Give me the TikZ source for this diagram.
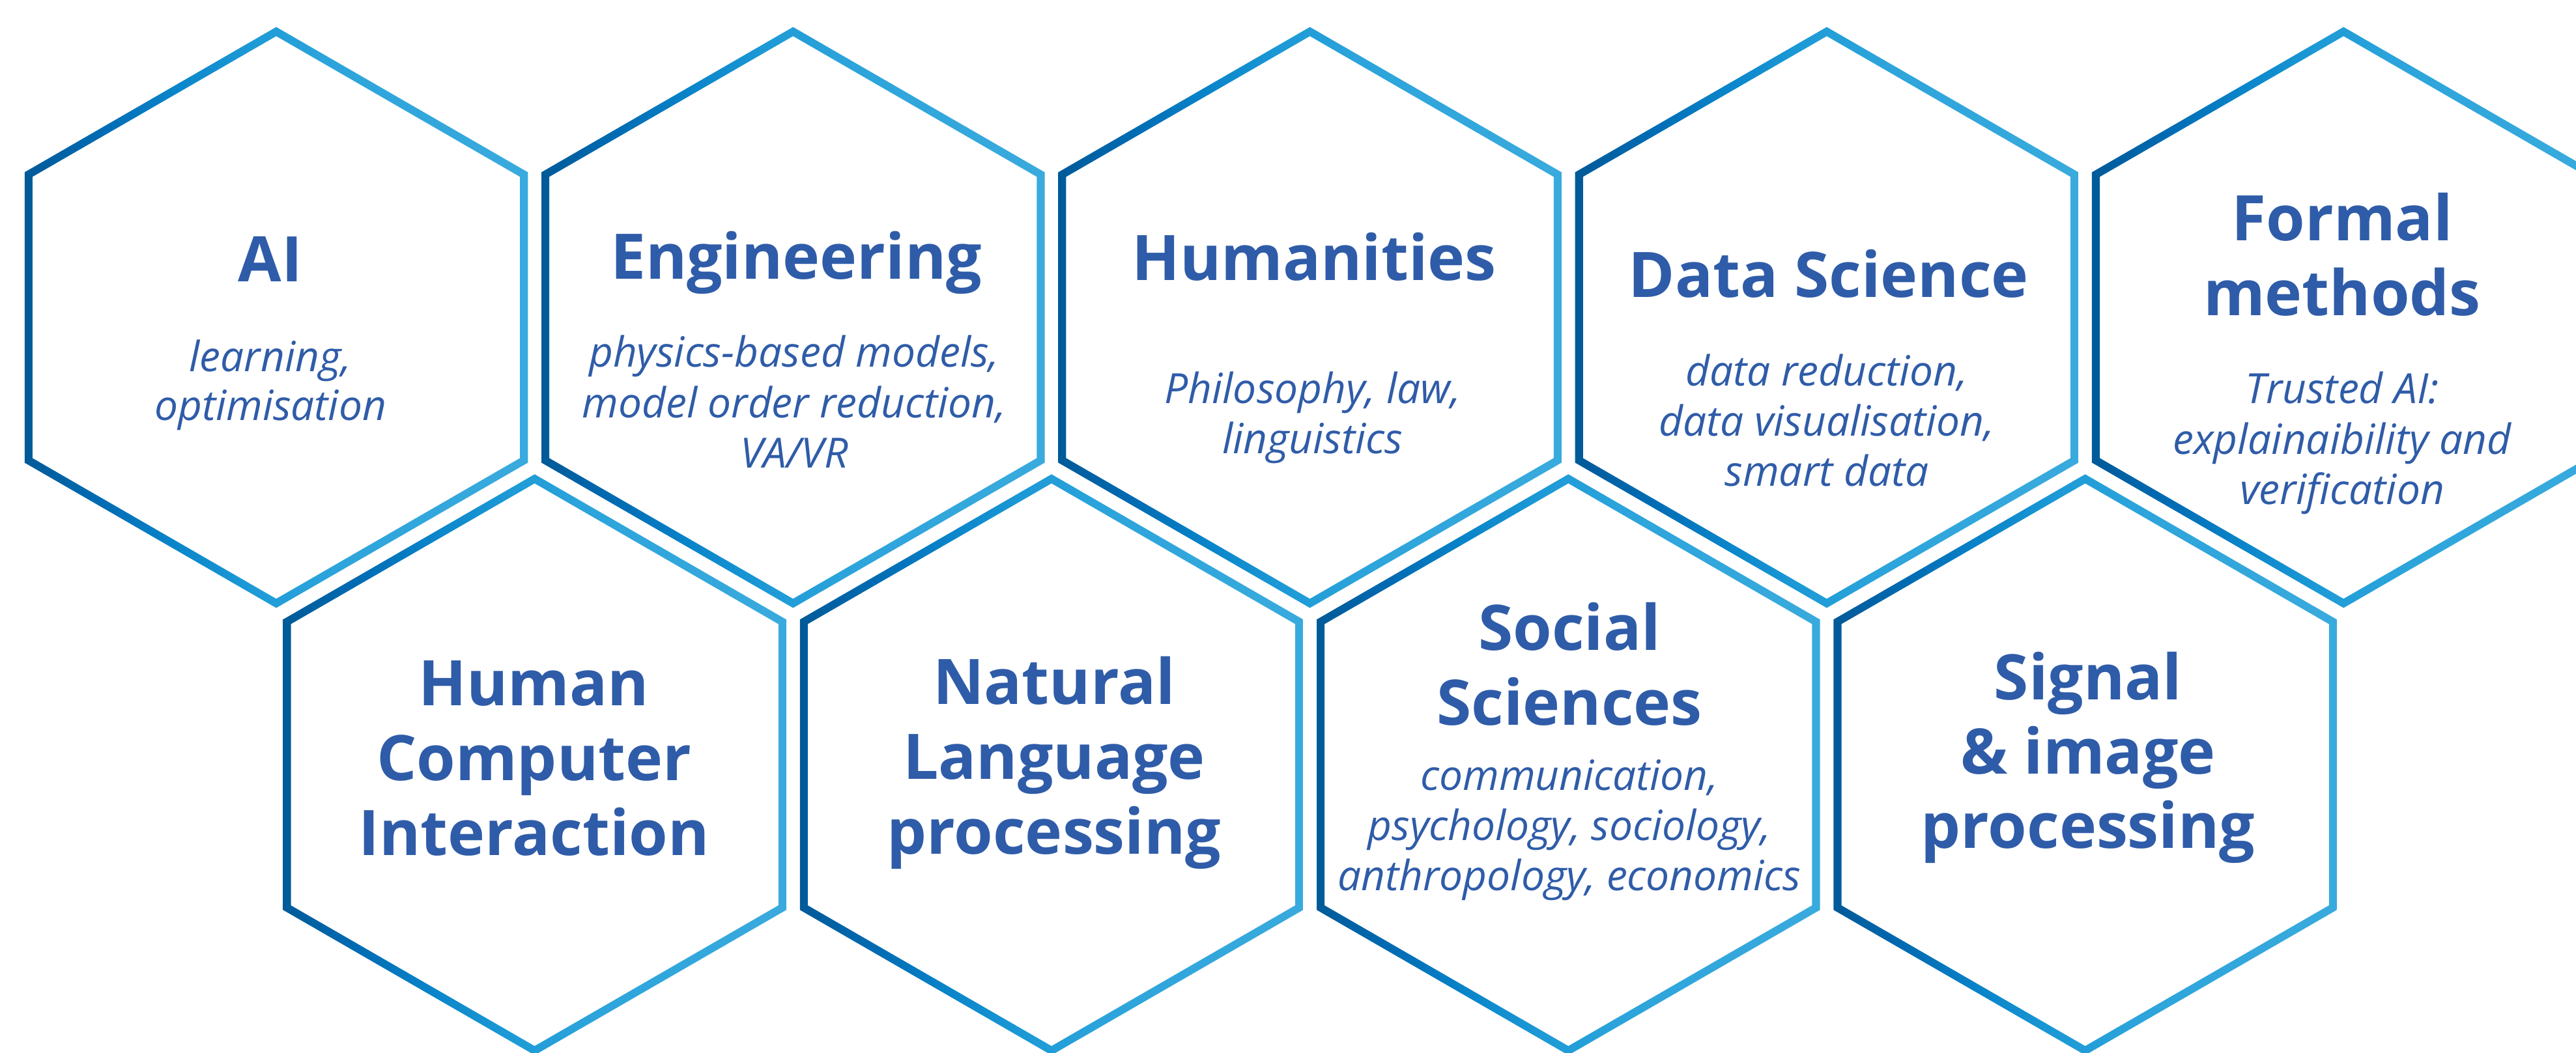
\documentclass[tikz,border=0pt]{standalone}
\usepackage{fontspec}
\setmainfont{Open Sans}
\definecolor{txt}{RGB}{47,92,168}
\definecolor{g0}{HTML}{005A98}
\definecolor{g1}{HTML}{006BB3}
\definecolor{g2}{HTML}{0A85CA}
\definecolor{g3}{HTML}{1D9AD6}
\definecolor{g4}{HTML}{2CA4DB}
\definecolor{g5}{HTML}{39AADD}
\pgfdeclarehorizontalshading{hexgrad}{100bp}{color(0bp)=(g0); color(25bp)=(g0); color(32.5bp)=(g1); color(40bp)=(g2); color(47.5bp)=(g3); color(55bp)=(g4); color(75bp)=(g5); color(100bp)=(g5)}
\def\Ro{4.46}
\def\Ri{4.32}
\newcommand{\hexring}[1]{%
  \begin{scope}[shift={(#1)}]
    \shade[shading=hexgrad] (90:\Ro) -- (150:\Ro) -- (210:\Ro) -- (270:\Ro) -- (330:\Ro) -- (30:\Ro) -- cycle
      (90:\Ri) -- (30:\Ri) -- (330:\Ri) -- (270:\Ri) -- (210:\Ri) -- (150:\Ri) -- cycle;
  \end{scope}}
\tikzset{
  ttl/.style={anchor=base, text=txt, inner sep=0pt, font=\fontsize{27.45pt}{33pt}\selectfont\bfseries},
  sbt/.style={anchor=base, text=txt, inner sep=0pt, font=\fontsize{18.2pt}{22pt}\selectfont\itshape}
}
\begin{document}
\begin{tikzpicture}
\useasboundingbox (0,0) rectangle (39.54,-16.17);
\clip (0,0) rectangle (39.54,-16.17);
% hexagon centres
\coordinate (ai)  at (4.24,-4.875);
\coordinate (eng) at (12.173,-4.875);
\coordinate (hum) at (20.106,-4.875);
\coordinate (ds)  at (28.039,-4.875);
\coordinate (fm)  at (35.972,-4.875);
\coordinate (hci) at (8.2065,-11.743);
\coordinate (nlp) at (16.14,-11.743);
\coordinate (ss)  at (24.073,-11.743);
\coordinate (sip) at (32.006,-11.743);
\foreach \h in {ai,eng,hum,ds,fm,hci,nlp,ss,sip} {\hexring{\h}}
% AI
\node[ttl] (ai-t)  at (4.15,-4.33) {AI};
\node[sbt] (ai-s1) at (4.15,-5.70) {learning,};
\node[sbt] (ai-s2) at (4.15,-6.455) {optimisation};
% Engineering
\node[ttl] (eng-t)  at (12.22,-4.29) {Engineering};
\node[sbt] (eng-s1) at (12.19,-5.636) {physics-based models,};
\node[sbt] (eng-s2) at (12.19,-6.41) {model order reduction,};
\node[sbt] (eng-s3) at (12.19,-7.187) {VA/VR};
% Humanities
\node[ttl] (hum-t)  at (20.17,-4.307) {Humanities};
\node[sbt] (hum-s1) at (20.15,-6.193) {Philosophy, law,};
\node[sbt] (hum-s2) at (20.15,-6.96) {linguistics};
% Data Science
\node[ttl] (ds-t)  at (28.07,-4.57) {Data Science};
\node[sbt] (ds-s1) at (28.04,-5.927) {data reduction,};
\node[sbt] (ds-s2) at (28.04,-6.69) {data visualisation,};
\node[sbt] (ds-s3) at (28.04,-7.46) {smart data};
% Formal methods
\node[ttl] (fm-t1) at (35.95,-3.697) {Formal};
\node[ttl] (fm-t2) at (35.95,-4.848) {methods};
\node[sbt] (fm-s1) at (35.95,-6.20) {Trusted AI:};
\node[sbt] (fm-s2) at (35.95,-6.97) {explainaibility and};
\node[sbt] (fm-s3) at (35.95,-7.745) {verification};
% HCI
\node[ttl] (hci-t1) at (8.196,-10.83) {Human};
\node[ttl] (hci-t2) at (8.196,-11.98) {Computer};
\node[ttl] (hci-t3) at (8.196,-13.13) {Interaction};
% NLP
\node[ttl] (nlp-t1) at (16.18,-10.81) {Natural};
\node[ttl] (nlp-t2) at (16.18,-11.96) {Language};
\node[ttl] (nlp-t3) at (16.18,-13.11) {processing};
% Social Sciences
\node[ttl] (ss-t1) at (24.09,-9.98) {Social};
\node[ttl] (ss-t2) at (24.09,-11.135) {Sciences};
\node[sbt] (ss-s1) at (24.09,-12.135) {communication,};
\node[sbt] (ss-s2) at (24.09,-12.905) {psychology, sociology,};
\node[sbt] (ss-s3) at (24.09,-13.675) {anthropology, economics};
% Signal & image processing
\node[ttl] (sip-t1) at (32.05,-10.74) {Signal};
\node[ttl] (sip-t2) at (32.05,-11.88) {\& image};
\node[ttl] (sip-t3) at (32.05,-13.02) {processing};
\end{tikzpicture}
\end{document}
